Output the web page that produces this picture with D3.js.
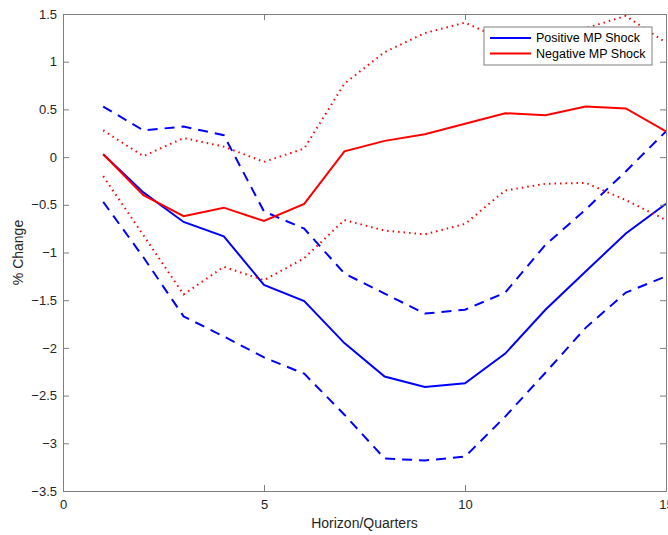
<!DOCTYPE html>
<html>
<head>
<meta charset="utf-8">
<script src="https://cdn.jsdelivr.net/npm/d3@7"></script>
<style>
    body { margin: 0; background: #fff; }
    svg { display: block; font-family: 'Liberation Sans', Arial, sans-serif; }
</style>
</head>
<body>
<div id="chart"></div>
<script>
// Horizon in quarters
const horizon = [1, 2, 3, 4, 5, 6, 7, 8, 9, 10, 11, 12, 13, 14, 15]

// Positive MP shock (blue) with bands
const posMid = [0.03, -0.37, -0.68, -0.83, -1.34, -1.51, -1.95, -2.30, -2.41, -2.37, -2.06, -1.60, -1.20, -0.80, -0.49]
const posUpper = [0.53, 0.28, 0.32, 0.23, -0.57, -0.75, -1.22, -1.43, -1.64, -1.60, -1.42, -0.92, -0.55, -0.15, 0.27]
const posLower = [-0.47, -1.05, -1.67, -1.88, -2.10, -2.27, -2.70, -3.16, -3.18, -3.14, -2.72, -2.26, -1.79, -1.42, -1.25]

// Negative MP shock (red) with bands
const negMid = [0.03, -0.40, -0.62, -0.53, -0.67, -0.49, 0.06, 0.17, 0.24, 0.35, 0.46, 0.44, 0.53, 0.51, 0.27]
const negUpper = [0.28, 0.01, 0.20, 0.11, -0.05, 0.09, 0.77, 1.10, 1.30, 1.41, 1.22, 1.20, 1.35, 1.48, 1.20]
const negLower = [-0.20, -0.82, -1.44, -1.15, -1.29, -1.06, -0.66, -0.77, -0.81, -0.70, -0.35, -0.28, -0.27, -0.45, -0.66]

const xTicks = [0, 5, 10, 15]
const yTicks = [-3.5, -3, -2.5, -2, -1.5, -1, -0.5, 0, 0.5, 1, 1.5]
const legendLabels = ['Positive MP Shock', 'Negative MP Shock']

const width = 668
const height = 535
const margin = { top: 14, right: 2, bottom: 44, left: 63 }
const w = width - margin.left - margin.right
const h = height - margin.top - margin.bottom

const blue = '#0000ff'
const red = '#ff0000'
const axisCol = '#7f7f7f'
const textCol = '#262626'

const svg = d3.select('#chart').append('svg')
    .attr('width', width)
    .attr('height', height)

const g = svg.append('g')
    .attr('transform', `translate(${margin.left},${margin.top})`)

const x = d3.scaleLinear().domain([0, 15]).range([0, w])
const y = d3.scaleLinear().domain([-3.5, 1.5]).range([h, 0])

// Lines
const line = d3.line()
    .x((d, i) => x(horizon[i]))
    .y(d => y(d))

const series = [
    { data: posMid, color: blue, dash: null },
    { data: posUpper, color: blue, dash: '10,7' },
    { data: posLower, color: blue, dash: '10,7' },
    { data: negMid, color: red, dash: null },
    { data: negUpper, color: red, dash: '1.5,4' },
    { data: negLower, color: red, dash: '1.5,4' }
]

g.append('defs').append('clipPath').attr('id', 'plot-clip')
    .append('rect').attr('x', 0).attr('y', 0).attr('width', w).attr('height', h)

g.append('g').attr('clip-path', 'url(#plot-clip)')
    .selectAll('path')
    .data(series)
    .enter()
    .append('path')
    .attr('d', d => line(d.data))
    .attr('fill', 'none')
    .attr('stroke', d => d.color)
    .attr('stroke-width', 2)
    .attr('stroke-dasharray', d => d.dash)

// Axes, MATLAB style with inward ticks on all sides
const styleAxis = sel => {
    sel.select('.domain').attr('stroke', axisCol)
    sel.selectAll('.tick line').attr('stroke', axisCol)
    sel.selectAll('.tick text').attr('fill', textCol).attr('font-size', 13)
}

g.append('g')
    .attr('transform', `translate(0,${h})`)
    .call(d3.axisBottom(x).tickValues(xTicks).tickSizeInner(-6).tickSizeOuter(0).tickPadding(9).tickFormat(d3.format('d')))
    .call(styleAxis)

g.append('g')
    .call(d3.axisTop(x).tickValues(xTicks).tickSizeInner(-6).tickSizeOuter(0).tickFormat(''))
    .call(styleAxis)

g.append('g')
    .call(d3.axisLeft(y).tickValues(yTicks).tickSizeInner(-6).tickSizeOuter(0).tickPadding(6).tickFormat(d => d3.format('')(d)))
    .call(styleAxis)

g.append('g')
    .attr('transform', `translate(${w},0)`)
    .call(d3.axisRight(y).tickValues(yTicks).tickSizeInner(-6).tickSizeOuter(0).tickFormat(''))
    .call(styleAxis)

// Axis titles
svg.append('text')
    .attr('x', margin.left + x(7.5))
    .attr('y', 528)
    .attr('text-anchor', 'middle')
    .attr('font-size', 14)
    .attr('fill', textCol)
    .text('Horizon/Quarters')

svg.append('text')
    .attr('transform', `translate(23,${margin.top + h / 2}) rotate(-90)`)
    .attr('text-anchor', 'middle')
    .attr('font-size', 14)
    .attr('fill', textCol)
    .text('% Change')

// Legend
const legend = svg.append('g').attr('transform', 'translate(484,27)')
legend.append('rect')
    .attr('width', 168)
    .attr('height', 38)
    .attr('fill', '#fff')
    .attr('stroke', axisCol)

const items = legend.selectAll('g.item')
    .data(legendLabels)
    .enter()
    .append('g')
    .attr('class', 'item')
    .attr('transform', (d, i) => `translate(0,${11 + i * 15.5})`)

items.append('line')
    .attr('x1', 6).attr('x2', 47)
    .attr('stroke', (d, i) => i === 0 ? blue : red)
    .attr('stroke-width', 2)

items.append('text')
    .attr('x', 52)
    .attr('dy', '0.35em')
    .attr('font-size', 12.5)
    .attr('fill', '#000')
    .text(d => d)
</script>
</body>
</html>
